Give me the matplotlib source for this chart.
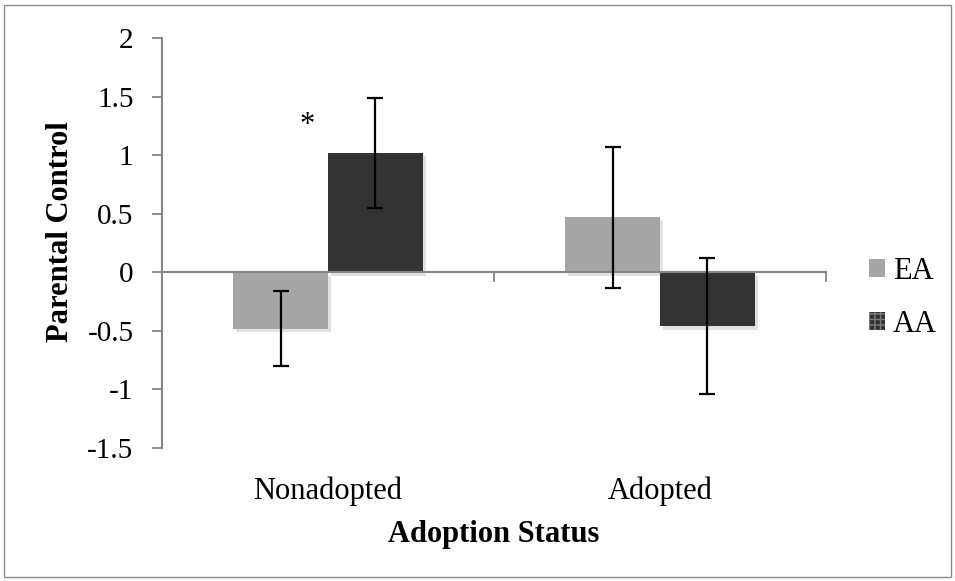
import matplotlib.pyplot as plt
import matplotlib.patheffects as pe
from matplotlib.patches import Rectangle
import numpy as np

# =========================
# DATA
# =========================
categories = ["Nonadopted", "Adopted"]
groups = ["EA", "AA"]
ea_means = [-0.48, 0.47]
ea_err = [0.32, 0.60]
aa_means = [1.02, -0.46]
aa_err = [0.47, 0.58]
yticks = [-1.5, -1, -0.5, 0, 0.5, 1, 1.5, 2]
ytick_labels = ["-1.5", "-1", "-0.5", "0", "0.5", "1", "1.5", "2"]
star_pos = (-0.063, 1.19)

# =========================
# PLOT
# =========================
plt.rcParams["font.family"] = ["Liberation Serif", "DejaVu Serif"]
fig = plt.figure(figsize=(9.55, 5.81), dpi=100)
ax = fig.add_axes([162 / 955, 1 - 448 / 581, (826 - 162) / 955, (448 - 38) / 581])

x = np.arange(len(categories))
w = 0.286
shadow = [pe.SimplePatchShadow(offset=(2, -2.5), shadow_rgbFace="#888888", alpha=0.25), pe.Normal()]

b1 = ax.bar(x - w / 2, ea_means, w, color="#A5A5A5", label=groups[0], zorder=2)
b2 = ax.bar(x + w / 2, aa_means, w, color="#333333", label=groups[1], zorder=2)
for b in list(b1) + list(b2):
    b.set_path_effects(shadow)

ekw = dict(fmt="none", ecolor="black", elinewidth=1.6, capsize=5.5, capthick=1.6, zorder=4)
ax.errorbar(x - w / 2, ea_means, yerr=ea_err, **ekw)
ax.errorbar(x + w / 2, aa_means, yerr=aa_err, **ekw)

ax.text(star_pos[0], star_pos[1], "*", fontsize=22, ha="center", va="baseline")

# axes styling
ax.set_xlim(-0.5, 1.5)
ax.set_ylim(-1.5, 2)
ax.set_yticks(yticks)
ax.set_yticklabels(ytick_labels)
ax.spines["top"].set_visible(False)
ax.spines["right"].set_visible(False)
ax.spines["left"].set_color("#868686")
ax.spines["left"].set_linewidth(1.5)
ax.spines["bottom"].set_position(("data", 0))
ax.spines["bottom"].set_color("#868686")
ax.spines["bottom"].set_linewidth(1.5)
ax.spines["bottom"].set_zorder(3)

ax.tick_params(axis="y", direction="out", length=7, width=1.3, color="#868686",
               pad=13.5, labelsize=21)
ax.set_xticks(x)
ax.set_xticklabels(categories)
ax.tick_params(axis="x", which="major", length=0, pad=147, labelsize=22)
ax.set_xticks([-0.5, 0.5, 1.5], minor=True)
ax.tick_params(axis="x", which="minor", direction="out", length=7, width=1.3, color="#868686")

ax.set_xlabel("Adoption Status", fontsize=22, fontweight="bold")
ax.xaxis.set_label_coords(0.5, -0.1756)
ax.xaxis.label.set_va("top")
fig.text(61 / 955, 1 - 232 / 581, "Parental Control", fontsize=22, fontweight="bold",
         rotation=90, ha="center", va="center")

leg = fig.legend(handles=[b1, b2], loc="center left", bbox_to_anchor=(869 / 955, 1 - 298 / 581),
                 frameon=False, fontsize=22, handlelength=0.52, handleheight=0.52,
                 handletextpad=0.26, labelspacing=0.78, borderpad=0, borderaxespad=0)
for h in leg.legend_handles:
    h.set_path_effects([])
leg.legend_handles[1].set_hatch("+++")
leg.legend_handles[1].set_edgecolor("#7a7a7a")
leg.legend_handles[1].set_linewidth(0)

fig.patches.append(Rectangle((4 / 955, 4 / 581), 947 / 955, 572 / 581, transform=fig.transFigure,
                             fill=False, edgecolor="#8c8c8c", linewidth=1))

plt.savefig("out.png", dpi=100)
